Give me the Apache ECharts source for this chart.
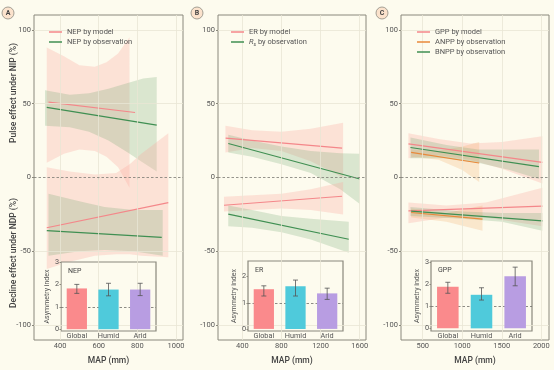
<!DOCTYPE html>
<html><head><meta charset="utf-8">
<script src="https://cdn.jsdelivr.net/npm/echarts@6/dist/echarts.min.js"></script>
<style>html,body{margin:0;padding:0;background:#fdfbee}#c{width:554px;height:370px}</style>
</head><body><div id="c"></div><script>
// ---------- tick labels ----------
const yTicks = [-100, -50, 0, 50, 100];
const A_xTicks = [400, 600, 800, 1000];
const B_xTicks = [400, 800, 1200, 1600];
const C_xTicks = [500, 1000, 1500, 2000];
const insetCats = ['Global', 'Humid', 'Arid'];

// ---------- Panel A (NEP) ----------
const A_pmLineX = [340, 788], A_pmLineY = [51, 44];
const A_pmBandX = [331, 420, 500, 580, 640, 700, 759];
const A_pmBandLo = [10, 16, 19, 18, 14, 7, -7];
const A_pmBandHi = [88, 82, 76, 75, 78, 84, 95];
const A_poLineX = [331, 900], A_poLineY = [47.5, 35.5];
const A_poBandX = [322, 450, 550, 650, 750, 830, 900];
const A_poBandLo = [35, 34, 31, 25, 17, 10, 4];
const A_poBandHi = [59, 56, 57, 60, 64, 67, 68];
const A_dmLineX = [331, 960], A_dmLineY = [-34, -17];
const A_dmBandX = [331, 450, 580, 690, 760, 820, 960];
const A_dmBandLo = [-62, -57, -53, -52, -52, -53, -54];
const A_dmBandHi = [7, 4, 2, 3, 9, 16, 30];
const A_doLineX = [331, 926], A_doLineY = [-36, -40.5];
const A_doBandX = [340, 500, 630, 780, 931];
const A_doBandLo = [-53, -50, -49, -50, -53];
const A_doBandHi = [-11, -16, -20, -22, -22];
const A_inset = [1.82, 1.77, 1.77];
const A_insetLo = [1.6, 1.49, 1.5];
const A_insetHi = [2.0, 2.05, 2.05];

// ---------- Panel B (ER / Rs) ----------
const B_pmLineX = [230, 1420], B_pmLineY = [26.6, 19.9];
const B_pmBandX = [228, 500, 800, 1100, 1430];
const B_pmBandLo = [17, 20, 18, 11, 0];
const B_pmBandHi = [35, 32, 31, 33, 37];
const B_poLineX = [257, 1601], B_poLineY = [23, -1];
const B_poBandX = [257, 500, 800, 1100, 1400, 1601];
const B_poBandLo = [17, 14, 9, 3, -8, -18];
const B_poBandHi = [29, 25, 21, 18, 16.5, 16];
const B_dmLineX = [213, 1420], B_dmLineY = [-18.8, -12.7];
const B_dmBandX = [213, 500, 800, 1100, 1430];
const B_dmBandLo = [-23, -22, -21, -22, -25];
const B_dmBandHi = [-13, -12, -11, -8, -3];
const B_doLineX = [257, 1488], B_doLineY = [-24.8, -41.8];
const B_doBandX = [257, 500, 800, 1100, 1488];
const B_doBandLo = [-33, -34, -37, -42, -51];
const B_doBandHi = [-19, -22, -26, -28, -30];
const B_inset = [1.52, 1.63, 1.36];
const B_insetLo = [1.26, 1.26, 1.13];
const B_insetHi = [1.65, 1.87, 1.56];

// ---------- Panel C (GPP / ANPP / BNPP) ----------
const C_pmLineX = [319, 2013], C_pmLineY = [22.8, 10.3];
const C_pmBandX = [319, 700, 1100, 1500, 2013];
const C_pmBandLo = [13, 15, 12, 6, -4];
const C_pmBandHi = [30, 26, 23, 24, 28];
const C_paLineX = [353, 1214], C_paLineY = [17, 9.8];
const C_paBandX = [353, 700, 1000, 1214];
const C_paBandLo = [14, 12, 5, -3];
const C_paBandHi = [19, 18, 21, 24];
const C_pbLineX = [345, 1970], C_pbLineY = [20.3, 7.4];
const C_pbBandX = [345, 800, 1200, 1600, 1970];
const C_pbBandLo = [13, 13, 10, 5, -1];
const C_pbBandHi = [27, 22, 19, 19, 19];
const C_dmLineX = [319, 2013], C_dmLineY = [-22.6, -19.4];
const C_dmBandX = [319, 800, 1300, 2013];
const C_dmBandLo = [-31, -27, -27, -33];
const C_dmBandHi = [-17, -19, -17, -7];
const C_daLineX = [353, 1256], C_daLineY = [-23.7, -28.2];
const C_daBandX = [353, 800, 1256];
const C_daBandLo = [-27, -30, -36];
const C_daBandHi = [-21, -24, -19];
const C_dbLineX = [353, 2013], C_dbLineY = [-22.8, -29.3];
const C_dbBandX = [345, 1000, 1500, 2013];
const C_dbBandLo = [-26, -28, -30, -36];
const C_dbBandHi = [-20, -23, -24, -24];
const C_inset = [1.9, 1.53, 2.38];
const C_insetLo = [1.6, 1.29, 1.94];
const C_insetHi = [2.1, 1.85, 2.79];

// ---------- styling ----------
const BG = '#fdfbee';
const FONT = 'Roboto';
const PINK = '#f4878a', GREEN = '#3f8f52', ORANGE = '#e8893a';
const PINK_BAND = 'rgba(252,170,160,0.30)';
const GREEN_BAND = 'rgba(110,165,110,0.24)';
const ORANGE_BAND = 'rgba(245,175,110,0.26)';
const BAR_COLORS = ['#fa8a8c', '#4fcadb', '#b89de2'];
const FRAME = '#8a887c';
const GRIDC = '#e9e6d4';
const LABC = '#555';

const zip2 = (a, b) => a.map((v, i) => [v, b[i]]);
const zip3 = (a, b, c) => a.map((v, i) => [v, b[i], c[i]]);

const series = [];
function band(g, x, lo, hi, color) {
  const pts = zip3(x, lo, hi);
  series.push({
    type: 'custom', xAxisIndex: g, yAxisIndex: g, clip: true, silent: true, z: 1,
    data: pts, encode: { x: 0, y: [1, 2] },
    renderItem: function (params, api) {
      if (params.dataIndex !== 0) return null;
      const top = pts.map(p => api.coord([p[0], p[2]]));
      const bot = pts.slice().reverse().map(p => api.coord([p[0], p[1]]));
      return { type: 'polygon', shape: { points: top.concat(bot) }, style: { fill: color } };
    }
  });
}
function line(g, name, x, y, color) {
  series.push({
    type: 'line', name: name, xAxisIndex: g, yAxisIndex: g, data: zip2(x, y),
    showSymbol: false, symbol: 'none', silent: true, z: 3,
    lineStyle: { color: color, width: 1.2 }, itemStyle: { color: color }
  });
}
function guides(g, xTicks) {
  const d = [];
  yTicks.filter(v => v !== 0).forEach(v => d.push({ yAxis: v }));
  xTicks.forEach(v => d.push({ xAxis: v }));
  series.push({
    type: 'line', xAxisIndex: g, yAxisIndex: g, data: [], silent: true, z: 0,
    markLine: { silent: true, symbol: 'none', label: { show: false }, animation: false,
      lineStyle: { color: GRIDC, width: 0.8, type: 'solid' }, data: d }
  });
  series.push({
    type: 'line', xAxisIndex: g, yAxisIndex: g, data: [], silent: true, z: 4,
    markLine: { silent: true, symbol: 'none', label: { show: false }, animation: false,
      lineStyle: { color: '#7a7a72', width: 0.8, type: [2.5, 2] }, data: [{ yAxis: 0 }] }
  });
}
function inset(g, vals, lo, hi) {
  series.push({
    type: 'line', xAxisIndex: g, yAxisIndex: g, data: [], silent: true, z: 5,
    markLine: { silent: true, symbol: 'none', label: { show: false }, animation: false,
      lineStyle: { color: '#6e6e68', width: 0.8, type: [2.5, 2] }, data: [{ yAxis: 1 }] }
  });
  series.push({
    type: 'bar', xAxisIndex: g, yAxisIndex: g, silent: true, z: 6, barWidth: '64%',
    data: vals.map((v, i) => ({ value: v, itemStyle: { color: BAR_COLORS[i] } }))
  });
  series.push({
    type: 'custom', xAxisIndex: g, yAxisIndex: g, silent: true, z: 7,
    data: zip3(insetCats.map((c, i) => i), lo, hi), encode: { x: 0, y: [1, 2] },
    renderItem: function (params, api) {
      const i = api.value(0);
      const a = api.coord([i, api.value(1)]);
      const b = api.coord([i, api.value(2)]);
      const w = 2.5, st = { stroke: '#555', lineWidth: 0.8 };
      return { type: 'group', children: [
        { type: 'line', shape: { x1: a[0], y1: a[1], x2: b[0], y2: b[1] }, style: st },
        { type: 'line', shape: { x1: a[0] - w, y1: a[1], x2: a[0] + w, y2: a[1] }, style: st },
        { type: 'line', shape: { x1: b[0] - w, y1: b[1], x2: b[0] + w, y2: b[1] }, style: st }
      ] };
    }
  });
}

// main grids 0,1,2 ; insets 3,4,5
guides(0, A_xTicks); guides(1, B_xTicks); guides(2, C_xTicks);
// A
band(0, A_pmBandX, A_pmBandLo, A_pmBandHi, PINK_BAND);
band(0, A_poBandX, A_poBandLo, A_poBandHi, GREEN_BAND);
band(0, A_dmBandX, A_dmBandLo, A_dmBandHi, PINK_BAND);
band(0, A_doBandX, A_doBandLo, A_doBandHi, GREEN_BAND);
line(0, 'NEP by model', A_pmLineX, A_pmLineY, PINK);
line(0, 'NEP by observation', A_poLineX, A_poLineY, GREEN);
line(0, 'NEP by model', A_dmLineX, A_dmLineY, PINK);
line(0, 'NEP by observation', A_doLineX, A_doLineY, GREEN);
// B
band(1, B_pmBandX, B_pmBandLo, B_pmBandHi, PINK_BAND);
band(1, B_poBandX, B_poBandLo, B_poBandHi, GREEN_BAND);
band(1, B_dmBandX, B_dmBandLo, B_dmBandHi, PINK_BAND);
band(1, B_doBandX, B_doBandLo, B_doBandHi, GREEN_BAND);
line(1, 'ER by model', B_pmLineX, B_pmLineY, PINK);
line(1, 'Rs by observation', B_poLineX, B_poLineY, GREEN);
line(1, 'ER by model', B_dmLineX, B_dmLineY, PINK);
line(1, 'Rs by observation', B_doLineX, B_doLineY, GREEN);
// C
band(2, C_pmBandX, C_pmBandLo, C_pmBandHi, PINK_BAND);
band(2, C_paBandX, C_paBandLo, C_paBandHi, ORANGE_BAND);
band(2, C_pbBandX, C_pbBandLo, C_pbBandHi, GREEN_BAND);
band(2, C_dmBandX, C_dmBandLo, C_dmBandHi, PINK_BAND);
band(2, C_daBandX, C_daBandLo, C_daBandHi, ORANGE_BAND);
band(2, C_dbBandX, C_dbBandLo, C_dbBandHi, GREEN_BAND);
line(2, 'GPP by model', C_pmLineX, C_pmLineY, PINK);
line(2, 'ANPP by observation', C_paLineX, C_paLineY, ORANGE);
line(2, 'BNPP by observation', C_pbLineX, C_pbLineY, GREEN);
line(2, 'GPP by model', C_dmLineX, C_dmLineY, PINK);
line(2, 'ANPP by observation', C_daLineX, C_daLineY, ORANGE);
line(2, 'BNPP by observation', C_dbLineX, C_dbLineY, GREEN);
// insets
inset(3, A_inset, A_insetLo, A_insetHi);
inset(4, B_inset, B_insetLo, B_insetHi);
inset(5, C_inset, C_insetLo, C_insetHi);

const mainGrid = (left, width) => ({ left: left, top: 15, width: width, height: 328, show: true,
  borderColor: FRAME, borderWidth: 1, backgroundColor: BG, z: 0 });
const insetGrid = (left, top, width, height) => ({ left: left, top: top, width: width, height: height,
  show: true, borderColor: FRAME, borderWidth: 1.2, backgroundColor: BG, z: 4 });

const plain = v => String(v);
const mainX = (g, min, max, ticks) => ({
  type: 'value', gridIndex: g, min: min, max: max,
  name: 'MAP (mm)', nameLocation: 'middle', nameGap: 16,
  nameTextStyle: { fontSize: 8.5, color: '#444', fontFamily: FONT, fontWeight: 500 },
  axisLine: { show: false }, splitLine: { show: false },
  axisTick: { show: true, length: 2, customValues: ticks, lineStyle: { color: FRAME } },
  axisLabel: { customValues: ticks, fontSize: 7.5, color: LABC, fontFamily: FONT, margin: 2, formatter: plain }
});
const mainY = (g) => ({
  type: 'value', gridIndex: g, min: -110, max: 110,
  axisLine: { show: false }, splitLine: { show: false },
  axisTick: { show: true, length: 2, customValues: yTicks, lineStyle: { color: FRAME } },
  axisLabel: { customValues: yTicks, fontSize: 7.5, color: LABC, fontFamily: FONT, margin: 3, formatter: plain }
});
const insetX = (g) => ({
  type: 'category', gridIndex: g, data: insetCats, z: 7,
  axisLine: { show: false }, axisTick: { show: false }, splitLine: { show: false },
  axisLabel: { fontSize: 7.3, color: LABC, fontFamily: FONT, margin: 1.5 }
});
const insetY = (g, min, max, ticks) => ({
  type: 'value', gridIndex: g, min: min, max: max, z: 7,
  name: 'Asymmetry index', nameLocation: 'middle', nameGap: 9, nameRotate: 90,
  nameTextStyle: { fontSize: 7, color: LABC, fontFamily: FONT },
  axisLine: { show: false }, splitLine: { show: false },
  axisTick: { show: true, length: 1.5, customValues: ticks, lineStyle: { color: FRAME } },
  axisLabel: { customValues: ticks, fontSize: 7.3, color: LABC, fontFamily: FONT, margin: 2, formatter: plain }
});

const legendBase = (data, left) => ({
  data: data, left: left, top: 22, orient: 'vertical', icon: 'rect', itemWidth: 13, itemHeight: 1.5,
  itemGap: 0, selectedMode: false, z: 8,
  textStyle: { fontSize: 7.5, color: LABC, fontFamily: FONT, lineHeight: 10,
    rich: { it: { fontStyle: 'italic', fontSize: 7.5, color: LABC, fontFamily: FONT, lineHeight: 10 },
            sub: { fontSize: 5, color: LABC, fontFamily: FONT, lineHeight: 10, verticalAlign: 'bottom', padding: [3, 0, 0, 0] },
            n: { fontSize: 7.5, color: LABC, fontFamily: FONT, lineHeight: 10 } } },
  formatter: function (name) { return name === 'Rs by observation' ? '{it|R}{sub|s}{n| by observation}' : name; }
});

const circ = (cx, cy, letter) => [
  { type: 'circle', shape: { cx: cx, cy: cy, r: 6 }, style: { fill: '#fbe2cc', stroke: '#8d8a80', lineWidth: 0.8 }, z: 10 },
  { type: 'text', x: cx, y: cy + 0.5, style: { text: letter, align: 'center', verticalAlign: 'middle', fontSize: 7, fontWeight: 'bold', fill: '#444', fontFamily: FONT }, z: 11 }
];

const option = {
  backgroundColor: BG,
  animation: false,
  grid: [mainGrid(34, 149), mainGrid(218, 148), mainGrid(401, 148),
         insetGrid(61, 262, 95, 69), insetGrid(248, 261, 95, 70), insetGrid(431, 261, 101, 70)],
  xAxis: [mainX(0, 265, 1036, A_xTicks), mainX(1, 152, 1664, B_xTicks), mainX(2, 225, 2097, C_xTicks),
          insetX(3), insetX(4), insetX(5)],
  yAxis: [mainY(0), mainY(1), mainY(2),
          insetY(3, -0.08, 3, [0, 1, 2, 3]), insetY(4, -0.08, 2.6, [0, 1, 2]), insetY(5, -0.12, 3.07, [0, 1, 2, 3])],
  legend: [legendBase(['NEP by model', 'NEP by observation'], 44),
           legendBase(['ER by model', 'Rs by observation'], 226),
           legendBase(['GPP by model', 'ANPP by observation', 'BNPP by observation'], 412)],
  title: [
    { text: 'NEP', left: 63, top: 263, textStyle: { fontSize: 7, fontWeight: 'normal', color: '#444', fontFamily: FONT }, z: 9 },
    { text: 'ER', left: 250, top: 262, textStyle: { fontSize: 7, fontWeight: 'normal', color: '#444', fontFamily: FONT }, z: 9 },
    { text: 'GPP', left: 433, top: 262, textStyle: { fontSize: 7, fontWeight: 'normal', color: '#444', fontFamily: FONT }, z: 9 }
  ],
  graphic: [
    ...circ(8, 13, 'A'), ...circ(197, 13, 'B'), ...circ(382, 13, 'C'),
    { type: 'text', x: 14, y: 93, rotation: Math.PI / 2, z: 10,
      style: { text: 'Pulse effect under NIP (%)', align: 'center', verticalAlign: 'middle', fontSize: 8.5, fontWeight: 500, fill: '#444', fontFamily: FONT } },
    { type: 'text', x: 14, y: 253, rotation: Math.PI / 2, z: 10,
      style: { text: 'Decline effect under NDP (%)', align: 'center', verticalAlign: 'middle', fontSize: 8.5, fontWeight: 500, fill: '#444', fontFamily: FONT } }
  ],
  series: series
};
const chart = echarts.init(document.getElementById('c'), null, { renderer: 'canvas' });
chart.setOption(option);
</script></body></html>
